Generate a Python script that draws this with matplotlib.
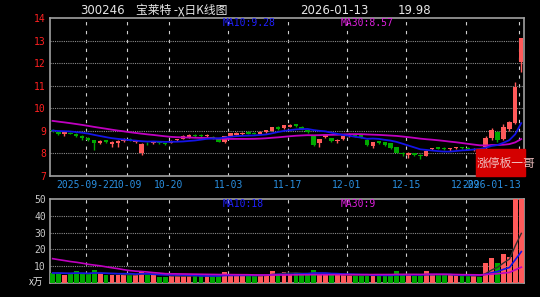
import numpy as np
import pandas as pd
import matplotlib
matplotlib.use("Agg")
import matplotlib.pyplot as plt
import matplotlib.transforms as mtransforms
from matplotlib.patches import Rectangle

# ---- data: 80 trading days, 2025-09-12 .. 2026-01-13 ----
opens = [9.05, 8.95, 8.84, 8.92, 8.88, 8.76, 8.68, 8.58, 8.46, 8.58,
         8.42, 8.48, 8.56, 8.64, 8.50, 8.02, 8.48, 8.45, 8.50, 8.45,
         8.48, 8.58, 8.66, 8.72, 8.82, 8.82, 8.76, 8.74, 8.64, 8.50,
         8.78, 8.82, 8.84, 8.96, 8.92, 8.88, 8.93, 9.00, 9.16, 9.12,
         9.19, 9.30, 9.18, 9.04, 8.76, 8.45, 8.72, 8.68, 8.56, 8.63,
         8.78, 8.86, 8.80, 8.60, 8.34, 8.54, 8.50, 8.44, 8.28, 8.03,
         7.94, 8.00, 7.94, 7.90, 8.18, 8.27, 8.26, 8.18, 8.22, 8.28,
         8.26, 8.14, 8.20, 8.27, 8.67, 8.96, 8.63, 9.07, 9.36, 12.06]
highs = [9.10, 8.98, 8.98, 8.95, 8.92, 8.80, 8.72, 8.60, 8.58, 8.60,
         8.55, 8.60, 8.70, 8.70, 8.60, 8.45, 8.52, 8.55, 8.53, 8.48,
         8.58, 8.66, 8.80, 8.84, 8.88, 8.84, 8.84, 8.76, 8.66, 8.78,
         8.92, 8.94, 8.95, 8.98, 8.95, 8.98, 9.06, 9.18, 9.20, 9.28,
         9.30, 9.32, 9.20, 9.06, 8.80, 8.65, 8.84, 8.70, 8.62, 8.78,
         8.90, 8.88, 8.82, 8.62, 8.52, 8.56, 8.52, 8.46, 8.30, 8.08,
         8.08, 8.03, 7.96, 8.14, 8.26, 8.30, 8.28, 8.26, 8.30, 8.30,
         8.28, 8.22, 8.22, 8.77, 9.11, 9.00, 9.29, 9.45, 11.18, 13.12]
lows = [8.95, 8.82, 8.78, 8.84, 8.72, 8.60, 8.55, 8.15, 8.42, 8.46,
        8.28, 8.30, 8.52, 8.55, 8.45, 7.92, 8.38, 8.42, 8.40, 8.36,
        8.45, 8.56, 8.64, 8.70, 8.72, 8.72, 8.74, 8.62, 8.50, 8.48,
        8.76, 8.80, 8.82, 8.85, 8.84, 8.86, 8.90, 8.98, 9.06, 9.10,
        9.15, 9.16, 9.05, 8.90, 8.35, 8.30, 8.68, 8.52, 8.45, 8.60,
        8.75, 8.72, 8.70, 8.35, 8.26, 8.42, 8.34, 8.18, 8.00, 7.90,
        7.80, 7.90, 7.75, 7.88, 8.14, 8.18, 8.15, 8.12, 8.20, 8.20,
        8.15, 8.10, 8.08, 8.20, 8.60, 8.52, 8.60, 9.00, 9.30, 11.60]
closes = [8.98, 8.86, 8.93, 8.88, 8.76, 8.70, 8.60, 8.46, 8.55, 8.50,
          8.52, 8.56, 8.66, 8.58, 8.56, 8.42, 8.44, 8.52, 8.44, 8.40,
          8.56, 8.62, 8.76, 8.80, 8.78, 8.76, 8.82, 8.66, 8.52, 8.76,
          8.90, 8.90, 8.92, 8.88, 8.86, 8.96, 9.04, 9.16, 9.10, 9.25,
          9.25, 9.20, 9.08, 8.94, 8.38, 8.62, 8.80, 8.56, 8.60, 8.76,
          8.88, 8.76, 8.74, 8.38, 8.50, 8.46, 8.38, 8.22, 8.02, 7.98,
          8.04, 7.94, 7.90, 8.12, 8.22, 8.20, 8.18, 8.22, 8.27, 8.24,
          8.18, 8.20, 8.12, 8.67, 9.04, 8.59, 9.18, 9.38, 10.93, 13.12]
# volume in 万 (10k shares)
volumes = [6.1, 6.0, 4.8, 5.2, 7.3, 5.2, 5.2, 7.7, 5.8, 4.8,
           4.8, 4.8, 4.9, 5.2, 4.8, 7.1, 4.8, 4.8, 3.8, 3.8,
           4.2, 4.5, 4.3, 4.0, 4.2, 4.0, 4.5, 4.3, 4.1, 6.7,
           4.5, 4.4, 4.6, 4.0, 4.2, 4.8, 5.0, 7.3, 5.6, 6.5,
           5.2, 5.8, 5.8, 5.2, 7.7, 5.0, 5.0, 4.8, 4.6, 4.6,
           4.6, 4.5, 4.5, 4.6, 4.6, 4.5, 4.4, 4.5, 7.1, 5.2,
           4.6, 4.2, 4.0, 7.1, 5.0, 4.6, 4.5, 4.5, 4.6, 4.1,
           4.0, 4.5, 3.8, 11.8, 14.8, 11.8, 17.4, 15.5, 52.0, 51.0]

# 29 days before the window -- only feed the moving averages
pre_closes = [9.92, 9.88, 9.95, 9.90, 9.86, 9.89, 9.80, 9.76, 9.72, 9.78,
              9.74, 9.70, 9.75, 9.52, 9.40, 9.36, 9.30, 9.34, 9.28, 9.32,
              9.05, 9.02, 8.98, 9.04, 9.00, 8.96, 9.02, 9.06, 9.00]
pre_volumes = [24, 21, 23, 20, 22, 25, 21, 19, 23, 22, 20, 24, 21,
               15, 13, 14, 16, 12, 14,
               6.5, 5.8, 6.2, 5.5, 6.0, 5.6, 6.4, 5.7, 6.1, 5.9]

tick_idx = [6, 13, 20, 30, 40, 50, 60, 70, 79]
tick_labels = ["2025-09-22", "10-09", "10-20", "11-03", "11-17",
               "12-01", "12-15", "12-29", "2026-01-13"]

# ---- style ----
UP, DOWN = "#ff5a5a", "#00a800"
MA10_C, MA30_C, MA5_C = "#1414e6", "#c000c0", "#303030"
GRID_C, SPINE_C = "#8c8c8c", "#a0a0a0"
MONO = "DejaVu Sans Mono"
CJK = ["Noto Sans CJK SC", "DejaVu Sans"]
BODY_W = 0.75

n = len(closes)
x = np.arange(n)
o, h, l, c = map(np.array, (opens, highs, lows, closes))
up = c >= o
cols = np.where(up, UP, DOWN)


def ma(pre, vals, k):
    s = pd.Series(list(pre) + list(vals)).rolling(k).mean()
    return s.iloc[-len(vals):].values


def style_axes(ax):
    ax.set_facecolor("black")
    for sp in ax.spines.values():
        sp.set_color(SPINE_C)
        sp.set_linewidth(1.2)
    ax.set_xlim(-0.05, n - 0.15)
    ax.set_xticks([])
    ax.tick_params(axis="y", length=0, pad=3, labelsize=7)
    for t in tick_idx:
        ax.axvline(t, color="#d0d0d0", lw=0.8, ls=(0, (3, 5)), zorder=1)


fig = plt.figure(figsize=(5.4, 2.97), dpi=100, facecolor="black")
ax_p = fig.add_axes([50 / 540, 1 - 176 / 297, 474 / 540, 158 / 297])
ax_v = fig.add_axes([50 / 540, 1 - 283 / 297, 474 / 540, 84 / 297])

# ---- price panel ----
style_axes(ax_p)
ax_p.set_ylim(7, 14)
ax_p.set_yticks(range(7, 15))
for lab in ax_p.get_yticklabels():
    lab.set_color("#ff2020")
    lab.set_family(MONO)
for yv in range(8, 14):
    ax_p.axhline(yv, color=GRID_C, lw=0.8, ls=(0, (1, 1)), zorder=1)

ax_p.vlines(x + BODY_W / 2, l, h, colors=cols, lw=1, zorder=3)
body = np.maximum(np.abs(c - o), 0.02)
ax_p.bar(x, body, bottom=np.minimum(o, c), width=BODY_W, align="edge",
         color=cols, zorder=4)
ax_p.plot(x + BODY_W / 2, ma(pre_closes, closes, 30), color=MA30_C, lw=1.3, zorder=5)
ax_p.plot(x + BODY_W / 2, ma(pre_closes, closes, 10), color=MA10_C, lw=1.3, zorder=5)

ax_p.text(173 / 474 * (n - 0.1) - 0.05, 13.76, "MA10:9.28", color="#2020ff",
          fontsize=7, family=MONO, va="center")
ax_p.text(291 / 474 * (n - 0.1) - 0.05, 13.76, "MA30:8.57", color="#e020e0",
          fontsize=7, family=MONO, va="center")

# date labels under the price panel (last two overlap as in the source)
tr = mtransforms.blended_transform_factory(ax_p.transData, ax_p.transAxes)
for t, lab in zip(tick_idx, tick_labels):
    ha = "right" if t == tick_idx[-1] else "center"
    ax_p.text(t + (0.4 if ha == "right" else 0), -0.058, lab, transform=tr,
              ha=ha, va="center", fontsize=7, family=MONO, color="#2a8fe0")

# ---- volume panel ----
style_axes(ax_v)
ax_v.set_ylim(0, 50)
ax_v.set_yticks([10, 20, 30, 40, 50])
for lab in ax_v.get_yticklabels():
    lab.set_color("#c8c8c8")
    lab.set_family(MONO)
for yv in (10, 20, 30, 40):
    ax_v.axhline(yv, color=GRID_C, lw=0.8, ls=(0, (1, 1)), zorder=1)
ax_v.bar(x, volumes, width=0.8, align="edge", color=cols, zorder=3)
ax_v.plot(x + 0.4, ma(pre_volumes, volumes, 5), color=MA5_C, lw=1, zorder=4)
ax_v.plot(x + 0.4, ma(pre_volumes, volumes, 10), color=MA10_C, lw=1.2, zorder=5)
ax_v.plot(x + 0.4, ma(pre_volumes, volumes, 30), color=MA30_C, lw=1.2, zorder=5)
ax_v.text(173 / 474 * (n - 0.1) - 0.05, 47, "MA10:18", color="#2020ff",
          fontsize=7, family=MONO, va="center")
ax_v.text(291 / 474 * (n - 0.1) - 0.05, 47, "MA30:9", color="#e020e0",
          fontsize=7, family=MONO, va="center")
fig.text(29 / 540, 1 - 282 / 297, "x万", color="#e0e0e0", fontsize=7,
         family=CJK, va="center")

# ---- title row ----
ty = 1 - 10 / 297
fig.text(80 / 540, ty, "300246", color="#e6e6e6", fontsize=8.5, va="center")
fig.text(136 / 540, ty, "宝莱特 -χ日K线图", color="#e6e6e6", fontsize=8.5,
         family=CJK, va="center")
fig.text(300 / 540, ty, "2026-01-13", color="#e6e6e6", fontsize=8.5, va="center")
fig.text(398 / 540, ty, "19.98", color="#e6e6e6", fontsize=8.5, va="center")

# ---- watermark box ----
fig.patches.append(Rectangle((476 / 540, 1 - 176 / 297), 49 / 540, 27 / 297,
                             transform=fig.transFigure, color="#d40000", zorder=10))
fig.text(477 / 540, 1 - 163 / 297, "涨停板一哥", color="#f0c0c0", fontsize=8.5,
         family=CJK, va="center", zorder=11)

fig.savefig("out.png", dpi=100, facecolor="black")
